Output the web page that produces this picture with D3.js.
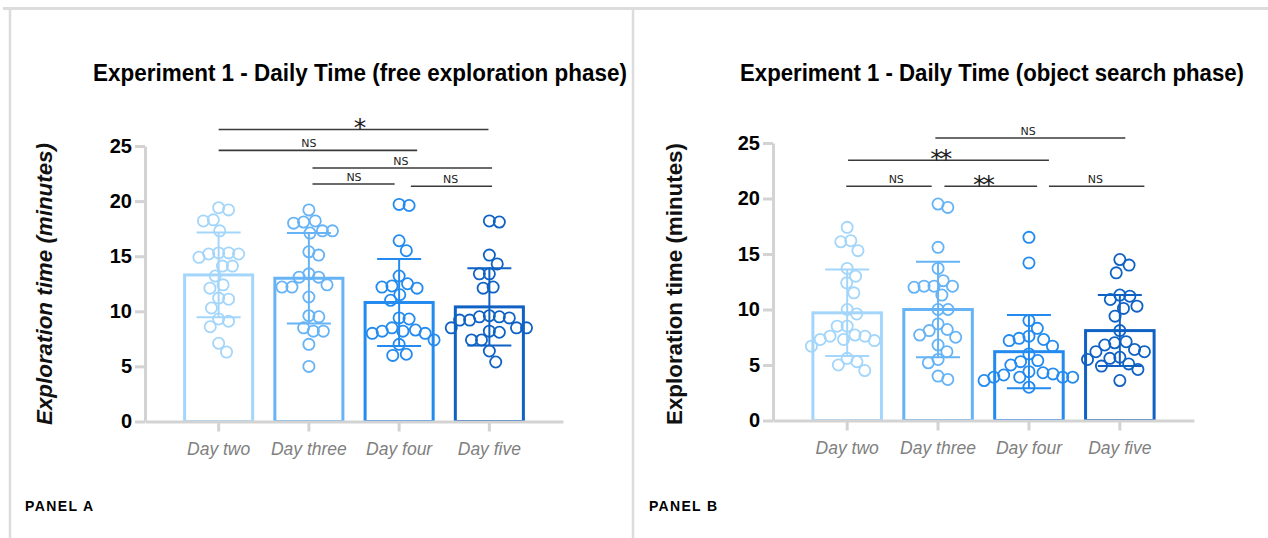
<!DOCTYPE html>
<html>
<head>
<meta charset="utf-8">
<script src="https://cdn.jsdelivr.net/npm/d3@7/dist/d3.min.js"></script>
<style>
  html, body { margin: 0; padding: 0; background: #ffffff; }
  svg { display: block; }
</style>
</head>
<body>
<script>
// ---------------- DATA ----------------
const categories = ["Day two", "Day three", "Day four", "Day five"];
const yTicks = [0, 5, 10, 15, 20, 25];

// Panel A: free exploration phase
const panelA_dayTwo   = [19.4, 19.2, 18.3, 18.2, 17.3, 15.3, 15.3, 15.2, 15.2, 14.9, 14.1, 14.1, 13.2, 12.4, 12.1, 11.2, 11.1, 10.3, 9.3, 9.1, 8.6, 7.1, 6.3];
const panelA_dayThree = [19.2, 18.2, 18.1, 18.0, 17.3, 17.3, 17.1, 15.4, 15.1, 13.4, 13.1, 13.1, 12.4, 12.2, 12.2, 11.3, 9.6, 9.5, 8.5, 8.2, 8.2, 7.0, 5.0];
const panelA_dayFour  = [19.7, 19.6, 16.4, 15.5, 13.2, 12.5, 12.3, 12.2, 12.1, 11.5, 11.0, 9.4, 9.3, 8.5, 8.3, 8.2, 8.2, 8.0, 8.0, 7.4, 7.0, 6.1, 6.0];
const panelA_dayFive  = [18.2, 18.1, 15.1, 14.3, 13.4, 13.4, 12.2, 12.1, 9.6, 9.5, 9.5, 9.4, 9.2, 9.2, 8.5, 8.5, 8.5, 8.2, 8.1, 7.4, 7.4, 6.4, 5.4];
const panelA_means = [13.3, 13.0, 10.8, 10.4];
const panelA_sd    = [3.85, 4.1, 3.95, 3.5];
// comparisons: from / to / label position as category index, level in minutes
const panelA_sig = [
  { from: 0.0,  to: 2.99, at: 1.55, level: 26.5, label: "*"  },
  { from: 0.0,  to: 2.2,  at: 1.0,  level: 24.6, label: "NS" },
  { from: 1.04, to: 3.03, at: 2.02, level: 23.0, label: "NS" },
  { from: 1.04, to: 1.95, at: 1.5,  level: 21.55, label: "NS" },
  { from: 2.13, to: 3.03, at: 2.57, level: 21.35, label: "NS" }
];

// Panel B: object search phase
const panelB_dayTwo   = [17.4, 16.2, 16.1, 15.3, 13.7, 13.0, 12.4, 11.5, 10.0, 9.6, 8.5, 8.5, 7.7, 7.6, 7.6, 7.3, 7.3, 7.2, 6.7, 5.6, 5.3, 5.0, 4.5];
const panelB_dayThree = [19.5, 19.2, 15.6, 13.7, 12.6, 12.1, 12.1, 12.1, 12.0, 11.3, 10.0, 10.0, 8.7, 8.2, 8.1, 7.7, 7.5, 6.8, 6.2, 5.5, 5.2, 4.0, 3.7];
const panelB_dayFour  = [16.5, 14.2, 9.0, 8.3, 7.6, 7.4, 7.3, 7.2, 6.7, 6.0, 5.4, 5.3, 5.0, 4.4, 4.3, 4.2, 4.1, 3.9, 3.9, 3.9, 3.9, 3.6, 3.0];
const panelB_dayFive  = [14.5, 14.0, 13.3, 11.3, 11.2, 10.9, 10.3, 10.1, 9.4, 8.1, 7.1, 7.0, 6.8, 6.4, 6.2, 6.2, 5.7, 5.6, 5.5, 5.1, 4.9, 4.6, 3.6];
const panelB_means = [9.7, 10.0, 6.2, 8.1];
const panelB_sd    = [3.9, 4.3, 3.3, 3.2];
const panelB_sig = [
  { from: 0.97, to: 3.06, at: 1.99, level: 25.45, label: "NS" },
  { from: 0.01, to: 2.22, at: 1.02, level: 23.45, label: "**" },
  { from: -0.01, to: 0.93, at: 0.54, level: 21.1, label: "NS" },
  { from: 1.07, to: 2.09, at: 1.49, level: 21.1, label: "**" },
  { from: 2.22, to: 3.27, at: 2.73, level: 21.1, label: "NS" }
];

// ---------------- STYLE ----------------
const barColors = ["#a3d6fa", "#66b3f6", "#238bf0", "#0f62c4"];
const axisColor = "#d3d3d3";

const W = 1268, H = 538;
const svg = d3.select("body").append("svg")
  .attr("width", W).attr("height", H)
  .style("font-family", "'Liberation Sans', Arial, sans-serif");

// frame lines
svg.append("line").attr("x1", 3).attr("x2", W).attr("y1", 8.5).attr("y2", 8.5)
  .attr("stroke", "#dcdcdc").attr("stroke-width", 3);
svg.append("line").attr("x1", 10).attr("x2", 10).attr("y1", 8).attr("y2", H)
  .attr("stroke", "#dcdcdc").attr("stroke-width", 2.5);
svg.append("line").attr("x1", 633).attr("x2", 633).attr("y1", 8).attr("y2", H)
  .attr("stroke", "#dcdcdc").attr("stroke-width", 2.5);

// beeswarm with an elliptical collision zone (wider rows, like Prism scatter)
function beeswarm(values, y, spacing, k) {
  const pts = values.map(v => ({ v, y: y(v), x: 0 })).sort((a, b) => a.y - b.y);
  const placed = [];
  const s2 = spacing * spacing;
  for (const p of pts) {
    const cand = [0];
    for (const q of placed) {
      const dy = Math.abs(q.y - p.y) * k;
      if (dy < spacing) {
        const dx = Math.sqrt(s2 - dy * dy);
        cand.push(q.x + dx, q.x - dx);
      }
    }
    cand.sort((a, b) => Math.abs(a) - Math.abs(b));
    for (const c of cand) {
      if (placed.every(q => (q.x - c) ** 2 + ((q.y - p.y) * k) ** 2 >= s2 - 1e-6)) { p.x = c; break; }
    }
    placed.push(p);
  }
  return placed;
}

function drawPanel(o) {
  const g = svg.append("g");
  const x = d3.scaleBand().domain(categories).range(o.xRange)
    .paddingInner(0.246).paddingOuter(0.439);
  const y = d3.scaleLinear().domain([0, 25]).range(o.yRange);
  const bw = x.bandwidth();
  const step = x.step();
  const cx = i => x(categories[0]) + bw / 2 + i * step;

  // title
  g.append("text").attr("x", o.titleX).attr("y", 81)
    .attr("text-anchor", "middle").attr("font-weight", "bold").attr("font-size", 23)
    .attr("textLength", o.titleLen).attr("lengthAdjust", "spacingAndGlyphs")
    .attr("fill", "#000").text(o.title);

  // y label
  g.append("text")
    .attr("transform", `translate(${o.ylabelX},284) rotate(-90)`)
    .attr("text-anchor", "middle").attr("font-weight", "bold").attr("font-size", 22)
    .attr("font-style", o.italicY ? "italic" : "normal")
    .attr("textLength", 282).attr("lengthAdjust", "spacingAndGlyphs")
    .attr("fill", "#111").text("Exploration time (minutes)");

  // bars
  g.selectAll("rect.bar").data(categories).join("rect")
    .attr("class", "bar")
    .attr("x", d => x(d)).attr("width", bw)
    .attr("y", (d, i) => y(o.means[i]))
    .attr("height", (d, i) => y(0) - y(o.means[i]))
    .attr("fill", "#fff")
    .attr("stroke", (d, i) => barColors[i]).attr("stroke-width", 3);

  // axes
  const yAxis = d3.axisLeft(y).tickValues(yTicks).tickSize(10).tickSizeOuter(0).tickPadding(3);
  const ya = g.append("g").attr("transform", `translate(${o.xRange[0]},0)`).call(yAxis);
  const xAxis = d3.axisBottom(x).tickSize(10).tickSizeOuter(0).tickPadding(11);
  const xa = g.append("g").attr("transform", `translate(0,${y(0)})`).call(xAxis);
  [ya, xa].forEach(a => {
    a.select(".domain").attr("stroke", axisColor).attr("stroke-width", 3);
    a.selectAll(".tick line").attr("stroke", axisColor).attr("stroke-width", 3);
  });
  ya.selectAll(".tick text").attr("font-size", 20).attr("font-weight", "bold")
    .attr("fill", "#000").attr("font-family", "'Liberation Sans', Arial, sans-serif");
  xa.selectAll(".tick text").attr("font-size", 17.5).attr("font-style", "italic")
    .attr("fill", "#808080").attr("font-family", "'Liberation Sans', Arial, sans-serif");

  // error bars (mean ± SD)
  categories.forEach((c, i) => {
    const xc = x(c) + bw / 2;
    const top = y(o.means[i] + o.sd[i]), bot = y(o.means[i] - o.sd[i]);
    const eg = g.append("g").attr("stroke", barColors[i]).attr("stroke-width", 2);
    eg.append("line").attr("x1", xc).attr("x2", xc).attr("y1", top).attr("y2", bot);
    eg.append("line").attr("x1", xc - 22).attr("x2", xc + 22).attr("y1", top).attr("y2", top);
    eg.append("line").attr("x1", xc - 22).attr("x2", xc + 22).attr("y1", bot).attr("y2", bot);
  });

  // points
  o.groups.forEach((vals, i) => {
    const xc = x(categories[i]) + bw / 2;
    const pts = beeswarm(vals, y, 10, 0.7);
    g.append("g").selectAll("circle").data(pts).join("circle")
      .attr("cx", d => xc + d.x).attr("cy", d => d.y).attr("r", 5.6)
      .attr("fill", "none").attr("stroke", barColors[i]).attr("stroke-width", 1.8);
  });

  // significance annotations
  const sg = g.append("g");
  o.sig.forEach(s => {
    const ly = y(s.level);
    sg.append("line").attr("x1", cx(s.from)).attr("x2", cx(s.to))
      .attr("y1", ly).attr("y2", ly).attr("stroke", "#3a3a3a").attr("stroke-width", 1.6);
    if (s.label === "NS") {
      sg.append("text").attr("x", cx(s.at)).attr("y", ly - 3.5)
        .attr("text-anchor", "middle").attr("font-family", "'DejaVu Sans', sans-serif")
        .attr("font-size", 11).attr("fill", "#222").text(s.label);
    } else {
      sg.append("text").attr("x", cx(s.at)).attr("y", ly + 7)
        .attr("text-anchor", "middle").attr("font-family", "'DejaVu Sans', sans-serif")
        .attr("font-size", 25).attr("fill", "#222")
        .attr("letter-spacing", -3).text(s.label);
    }
  });

  // panel label
  g.append("text").attr("x", o.panelLabelX).attr("y", 511)
    .attr("font-weight", "bold").attr("font-size", 14)
    .attr("textLength", 68).attr("lengthAdjust", "spacing")
    .attr("fill", "#000").text(o.panelLabel);
}

drawPanel({
  xRange: [145, 563], yRange: [421.5, 146],
  title: "Experiment 1 - Daily Time (free exploration phase)", titleX: 360, titleLen: 534,
  ylabelX: 52, italicY: true,
  groups: [panelA_dayTwo, panelA_dayThree, panelA_dayFour, panelA_dayFive],
  means: panelA_means, sd: panelA_sd, sig: panelA_sig,
  panelLabel: "PANEL A", panelLabelX: 25
});

drawPanel({
  xRange: [773, 1194], yRange: [420.5, 143],
  title: "Experiment 1 - Daily Time (object search phase)", titleX: 992, titleLen: 504,
  ylabelX: 682, italicY: false,
  groups: [panelB_dayTwo, panelB_dayThree, panelB_dayFour, panelB_dayFive],
  means: panelB_means, sd: panelB_sd, sig: panelB_sig,
  panelLabel: "PANEL B", panelLabelX: 649
});
</script>
</body>
</html>
